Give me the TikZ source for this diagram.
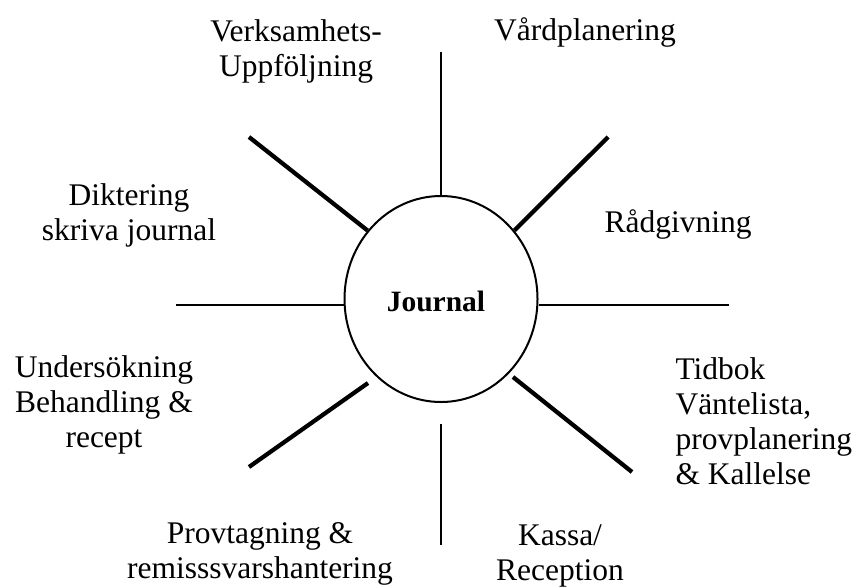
\documentclass[tikz,border=0pt]{standalone}
\usepackage{fontspec}
\setmainfont{Liberation Serif}
\usetikzlibrary{shapes.geometric}
\begin{document}
\begin{tikzpicture}[x=0.4pt,y=-0.4pt,
	spoke/.style={line width=0.8pt},
	bigspoke/.style={line width=1.7pt},
	lbl/.style={font=\fontsize{12.6}{14}\selectfont,align=center,anchor=base,inner sep=0pt}]
		\useasboundingbox (0,0) rectangle (857,586);
		\node [ellipse,draw,line width=0.8pt,inner sep=0pt,minimum width=77.2pt,minimum height=82.4pt] (j) at (441,299) {};
		\node [font=\fontsize{11.8}{14}\selectfont\bfseries,anchor=base,inner sep=0pt] (jt) at (436,311) {Journal};
		\coordinate (nTop) at (441,52);
		\coordinate (nNE) at (608,137);
		\coordinate (nE) at (729,305);
		\coordinate (nSEa) at (513,377);
		\coordinate (nSEb) at (632,472);
		\coordinate (nSa) at (441,424);
		\coordinate (nSb) at (441,545);
		\coordinate (nSWa) at (368,383);
		\coordinate (nSWb) at (249,467);
		\coordinate (nW) at (176,305);
		\coordinate (nNW) at (249,137);
		\draw [spoke] (nTop)-- (j.north);
		\draw [bigspoke] (nNE)-- (j.43);
		\draw [spoke] (j.east |- nE)-- (nE);
		\draw [bigspoke] (nSEa)-- (nSEb);
		\draw [spoke] (nSa)-- (nSb);
		\draw [bigspoke] (nSWa)-- (nSWb);
		\draw [spoke] (nW)-- (nW -| j.west);
		\draw [bigspoke] (nNW)-- (j.137);
		\node [lbl] (verk) at (296,77) {Verksamhets-\\Uppföljning};
		\node [lbl] (vard) at (585,41) {Vårdplanering};
		\node [lbl] (dikt) at (129,240) {Diktering\\skriva journal};
		\node [lbl] (rad) at (678,232) {Rådgivning};
		\node [lbl] (unders) at (104,447) {Undersökning\\Behandling \&\\recept};
		\node [lbl,align=left,anchor=base west] (tid) at (675,484) {Tidbok\\Väntelista,\\provplanering\\\& Kallelse};
		\node [lbl] (prov) at (260,578) {Provtagning \&\\remisssvarshantering};
		\node [lbl] (kassa) at (560,580) {Kassa/\\Reception};
\end{tikzpicture}
\end{document}
